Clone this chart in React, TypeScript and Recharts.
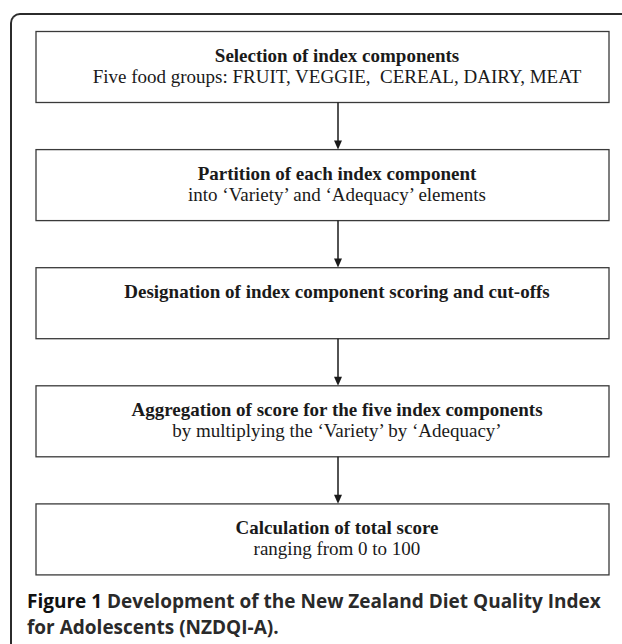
import { BarChart, Bar, XAxis, YAxis } from "recharts";

// flowchart steps, top to bottom
const stepTitles = [
  "Selection of index components",
  "Partition of each index component",
  "Designation of index component scoring and cut-offs",
  "Aggregation of score for the five index components",
  "Calculation of total score",
];

const stepDetails = [
  "Five food groups: FRUIT, VEGGIE,  CEREAL, DAIRY, MEAT",
  "into \u2018Variety\u2019 and \u2018Adequacy\u2019 elements",
  "",
  "by multiplying the \u2018Variety\u2019 by \u2018Adequacy\u2019",
  "ranging from 0 to 100",
];

const data = stepTitles.map((title, i) => ({
  title,
  detail: stepDetails[i],
  span: 1,
}));

const BOX_H = 71;
const BAND_H = 118;
const GAP = BAND_H - BOX_H;

// eslint-disable-next-line @typescript-eslint/no-explicit-any
function StepBox(props: any) {
  const { x, y, width, height, payload, index } = props;
  const cx = x + 301;
  const isLast = index === data.length - 1;
  const tip = y + height + GAP;
  return (
    <g>
      <rect x={x} y={y} width={width} height={height} fill="#fff" stroke="#3a3a3a" strokeWidth={1.3} />
      <text
        x={cx}
        y={y + 30}
        textAnchor="middle"
        style={{ fontFamily: "'Liberation Serif', serif", fontSize: 19, fontWeight: 700, fill: "#1a1a1a" }}
      >
        {payload.title}
      </text>
      {payload.detail && (
        <text
          x={cx}
          y={y + 51}
          textAnchor="middle"
          style={{ fontFamily: "'Liberation Serif', serif", fontSize: 19, fill: "#1a1a1a", whiteSpace: "pre" }}
        >
          {payload.detail}
        </text>
      )}
      {!isLast && (
        <>
          <line x1={cx + 1} y1={y + height} x2={cx + 1} y2={tip - 8} stroke="#1a1a1a" strokeWidth={1.5} />
          <polygon points={`${cx - 3},${tip - 9} ${cx + 5},${tip - 9} ${cx + 1},${tip}`} fill="#1a1a1a" />
        </>
      )}
    </g>
  );
}

export default function App() {
  return (
    <div style={wrapStyle}>
      <div style={frameStyle} />
      <BarChart
        layout="vertical"
        width={622}
        height={644}
        data={data}
        margin={{ top: 7.5, right: 13, bottom: 46, left: 36 }}
        style={{ position: "absolute", left: 0, top: 0 }}
      >
        <XAxis type="number" domain={[0, 1]} hide />
        <YAxis type="category" dataKey="title" hide />
        <Bar dataKey="span" barSize={BOX_H} shape={<StepBox />} isAnimationActive={false} />
      </BarChart>
      <div style={captionStyle}>
        <span style={{ color: "#111" }}>Figure 1</span> Development of the New Zealand Diet Quality Index
        <br />
        for Adolescents (NZDQI-A).
      </div>
    </div>
  );
}

const wrapStyle: React.CSSProperties = {
  position: "absolute",
  left: 0,
  top: 0,
  width: 622,
  height: 644,
  background: "#fff",
  overflow: "hidden",
};

const frameStyle: React.CSSProperties = {
  position: "absolute",
  left: 10,
  top: 13,
  width: 640,
  height: 660,
  borderTop: "2px solid #2b2b2b",
  borderLeft: "2px solid #2b2b2b",
  borderTopLeftRadius: 10,
};

const captionStyle: React.CSSProperties = {
  position: "absolute",
  left: 27,
  top: 588,
  fontFamily: "'Open Sans', sans-serif",
  fontWeight: 700,
  fontSize: 19,
  lineHeight: "26px",
  color: "#2a2a2a",
  whiteSpace: "nowrap",
};
